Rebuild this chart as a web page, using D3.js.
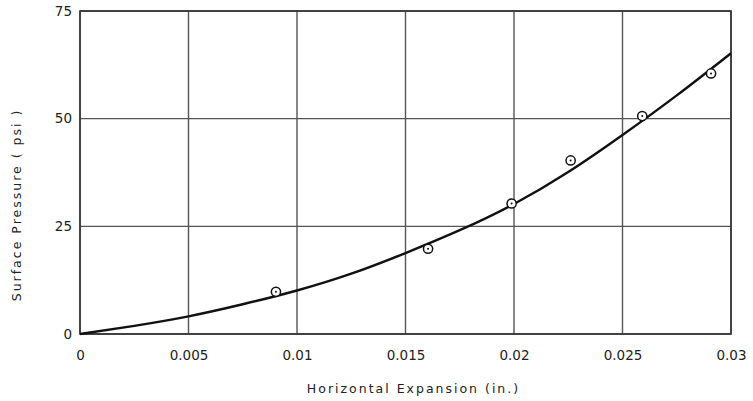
<!DOCTYPE html>
<html>
<head>
<meta charset="utf-8">
<script src="https://cdn.jsdelivr.net/npm/d3@7"></script>
<style>
  body { margin: 0; background: #fff; }
  text { font-family: "DejaVu Sans", "Open Sans", sans-serif; fill: #222; }
</style>
</head>
<body>
<div id="chart"></div>
<script>
// measured points
const expansion = [0.00903, 0.01604, 0.01989, 0.02261, 0.02591, 0.02908]
const pressure = [9.8, 19.8, 30.3, 40.3, 50.6, 60.5]

// fitted curve
const curveX = [0, 0.0025, 0.005, 0.0075, 0.01, 0.0125, 0.015, 0.0175, 0.02, 0.0225, 0.025, 0.0275, 0.03]
const curveY = [0, 1.9, 4.1, 6.9, 10.1, 14.0, 18.8, 24.1, 30.2, 37.6, 46.2, 55.4, 65.2]

const xTicks = [0, 0.005, 0.01, 0.015, 0.02, 0.025, 0.03]
const xTickLabels = ["0", "0.005", "0.01", "0.015", "0.02", "0.025", "0.03"]
const yTicks = [0, 25, 50, 75]

const W = 753, H = 401
const margin = { top: 11, right: 22, bottom: 67, left: 80 }
const width = W - margin.left - margin.right,
    height = H - margin.top - margin.bottom

const svg = d3.select("#chart").append("svg")
    .attr("width", W).attr("height", H)
const g = svg.append("g")
    .attr("transform", "translate(" + margin.left + "," + margin.top + ")")

const x = d3.scaleLinear().domain([0, 0.03]).range([0, width])
const y = d3.scaleLinear().domain([0, 75]).range([height, 0])

// grid
g.append("g").selectAll("line")
    .data(xTicks)
    .enter().append("line")
    .attr("x1", d => x(d)).attr("x2", d => x(d))
    .attr("y1", 0).attr("y2", height)
    .attr("stroke", "#555").attr("stroke-width", 1.4)
g.append("g").selectAll("line")
    .data(yTicks)
    .enter().append("line")
    .attr("y1", d => y(d)).attr("y2", d => y(d))
    .attr("x1", 0).attr("x2", width)
    .attr("stroke", "#555").attr("stroke-width", 1.4)

// frame
g.append("rect")
    .attr("width", width).attr("height", height)
    .attr("fill", "none").attr("stroke", "#333").attr("stroke-width", 1.6)

// axes (labels only)
const xAxis = g.append("g")
    .attr("transform", "translate(0," + height + ")")
    .call(d3.axisBottom(x).tickValues(xTicks).tickSize(0).tickPadding(16)
        .tickFormat((d, i) => xTickLabels[i]))
xAxis.select(".domain").remove()
xAxis.selectAll("text").style("font-size", "13.5px").attr("fill", "#222")

const yAxis = g.append("g")
    .call(d3.axisLeft(y).tickValues(yTicks).tickSize(0).tickPadding(8))
yAxis.select(".domain").remove()
yAxis.selectAll("text").style("font-size", "13.5px").attr("fill", "#222")

// curve
const line = d3.line()
    .x(d => x(d[0])).y(d => y(d[1]))
    .curve(d3.curveNatural)
g.append("path")
    .datum(d3.zip(curveX, curveY))
    .attr("d", line)
    .attr("fill", "none").attr("stroke", "#111").attr("stroke-width", 2.4)

// markers: circle with a dot
const pts = g.append("g").selectAll("g")
    .data(d3.zip(expansion, pressure))
    .enter().append("g")
    .attr("transform", d => "translate(" + x(d[0]) + "," + y(d[1]) + ")")
pts.append("circle").attr("r", 4.6)
    .attr("fill", "#fff").attr("stroke", "#111").attr("stroke-width", 1.5)
pts.append("circle").attr("r", 1).attr("fill", "#111")

// titles
svg.append("text")
    .attr("x", margin.left + width / 2 + 8).attr("y", 393)
    .attr("text-anchor", "middle")
    .style("font-size", "12.5px").style("letter-spacing", "2px")
    .text("Horizontal Expansion (in.)")

svg.append("text")
    .attr("transform", "translate(21,205) rotate(-90)")
    .attr("text-anchor", "middle")
    .style("font-size", "12.5px").style("letter-spacing", "2px")
    .text("Surface Pressure ( psi )")
</script>
</body>
</html>
